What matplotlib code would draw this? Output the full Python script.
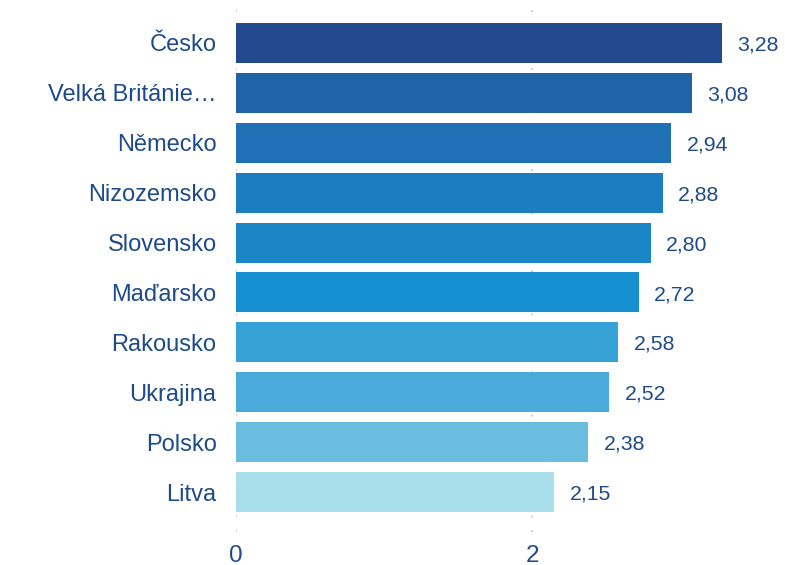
import matplotlib.pyplot as plt

# data
countries = ['Česko', 'Velká Británie…', 'Německo', 'Nizozemsko', 'Slovensko',
             'Maďarsko', 'Rakousko', 'Ukrajina', 'Polsko', 'Litva']
values = [3.28, 3.08, 2.94, 2.88, 2.80, 2.72, 2.58, 2.52, 2.38, 2.15]
colors = ['#234a8f', '#2063a8', '#1f70b5', '#1c7dc0', '#1a86c8',
          '#168fd0', '#37a2d6', '#4aaad9', '#6bbde0', '#a8dfeb']
xticks = [0, 2]

text_color = '#1e4b88'
plt.rcParams['font.family'] = ['Liberation Sans', 'DejaVu Sans']

fig = plt.figure(figsize=(7.85, 5.65), dpi=100)
ax = fig.add_axes([236 / 785, 1 - 532 / 565, 548 / 785, 529 / 565])

pos = list(range(len(countries)))
ax.barh(pos, values, height=0.8, color=colors, zorder=2)

# value labels with comma decimal
for y, v in zip(pos, values):
    ax.annotate(f'{v:.2f}'.replace('.', ','), xy=(v, y), xytext=(11, -1.5),
                textcoords='offset points', va='center', ha='left',
                fontsize=15.3, color=text_color)

ax.set_xlim(0, 3.7)
ax.set_ylim(len(countries) - 0.2, -0.8)
ax.set_yticks(pos)
ax.set_yticklabels(countries, fontsize=17, color=text_color)
ax.set_xticks(xticks)
ax.set_xticklabels([str(t) for t in xticks], fontsize=17.5, color=text_color)
ax.tick_params(axis='both', length=0)
ax.tick_params(axis='y', pad=14)
ax.tick_params(axis='x', pad=9)

ax.grid(axis='x', color='#c8c8c8', linestyle=(0, (1, 7)), linewidth=1.3, zorder=0)
ax.grid(axis='y', visible=False)
for s in ax.spines.values():
    s.set_visible(False)

fig.savefig('out.png', dpi=100)
